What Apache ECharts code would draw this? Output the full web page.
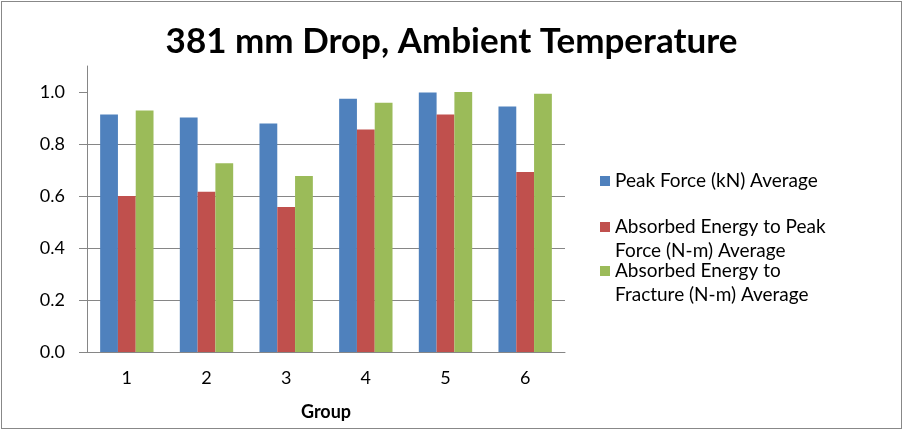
<!DOCTYPE html>
<html>
<head>
<meta charset="utf-8">
<script src="https://cdn.jsdelivr.net/npm/echarts@6/dist/echarts.min.js"></script>
<style>
  html, body { margin: 0; padding: 0; background: #fff; }
  #main { width: 899px; height: 426px; border: 1px solid #888; margin: 1px; }
</style>
</head>
<body>
<div id="main"></div>
<script>
var groups = ['1', '2', '3', '4', '5', '6'];
var seriesNames = [
  'Peak Force (kN) Average',
  'Absorbed Energy to Peak Force (N-m) Average',
  'Absorbed Energy to Fracture (N-m) Average'
];
// blank first line keeps the square level with the first text line
var legendLabels = [
  'Peak Force (kN) Average',
  '\u00a0\nAbsorbed Energy to Peak\nForce (N-m) Average',
  '\u00a0\nAbsorbed Energy to\nFracture (N-m) Average'
];
var peakForce = [0.913, 0.902, 0.879, 0.974, 0.998, 0.944];
var energyToPeak = [0.600, 0.616, 0.558, 0.856, 0.913, 0.692];
var energyToFracture = [0.929, 0.726, 0.677, 0.959, 1.000, 0.993];
var yTicks = [0, 0.2, 0.4, 0.6, 0.8, 1.0];
var colors = ['#4F81BD', '#C0504D', '#9BBB59'];

var font = 'Lato, "Open Sans", sans-serif';
var chart = echarts.init(document.getElementById('main'));

var values = [peakForce, energyToPeak, energyToFracture];
var legendTops = [167, 189, 233];

var option = {
  color: colors,
  textStyle: { fontFamily: font },
  animation: false,
  title: {
    text: '381 mm Drop, Ambient Temperature',
    left: 'center',
    top: 17,
    textStyle: { fontSize: 35, fontWeight: 'bold', color: '#000', fontFamily: font }
  },
  legend: seriesNames.map(function (name, i) {
    return {
      data: [name],
      orient: 'vertical',
      left: 598,
      top: legendTops[i],
      padding: 0,
      itemWidth: 10,
      itemHeight: 10,
      icon: 'rect',
      selectedMode: false,
      formatter: function () { return legendLabels[i]; },
      textStyle: { fontSize: 19, lineHeight: 24, color: '#000', fontFamily: font }
    };
  }),
  grid: { left: 85, right: 336, top: 64, bottom: 76 },
  xAxis: {
    type: 'category',
    data: groups,
    name: 'Group',
    nameLocation: 'middle',
    nameGap: 51,
    nameTextStyle: { fontSize: 18, fontWeight: 'bold', color: '#000', fontFamily: font },
    axisLine: { lineStyle: { color: '#868686' } },
    axisTick: { show: false },
    axisLabel: { fontSize: 18, color: '#000', margin: 17, fontFamily: font }
  },
  yAxis: {
    type: 'value',
    min: 0,
    max: 1.1,
    interval: 0.2,
    axisLine: { show: true, lineStyle: { color: '#868686' } },
    axisTick: { show: true, length: 8, lineStyle: { color: '#868686' }, customValues: yTicks },
    axisLabel: {
      fontSize: 18, color: '#000', margin: 22, fontFamily: font,
      customValues: yTicks,
      formatter: function (v) { return v.toFixed(1); }
    },
    splitLine: { show: true, showMaxLine: false, lineStyle: { color: '#868686' } }
  },
  series: seriesNames.map(function (name, i) {
    return {
      name: name,
      type: 'bar',
      data: values[i],
      barGap: '0%',
      barCategoryGap: '33%'
    };
  })
};

chart.setOption(option);
</script>
</body>
</html>
